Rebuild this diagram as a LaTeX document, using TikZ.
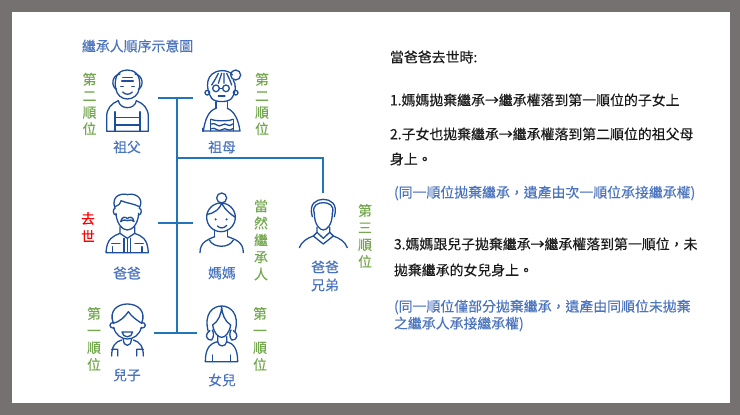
\documentclass[tikz,border=0pt]{standalone}
\usepackage{fontspec}
\setmainfont{Noto Sans CJK TC}[FakeBold=0.25,Script=CJK,Language=Chinese Traditional]
\definecolor{frameg}{HTML}{757171}
\definecolor{linkb}{HTML}{2176B8}
\definecolor{iconb}{HTML}{1F4F9C}
\definecolor{textb}{HTML}{4A74BE}
\definecolor{textg}{HTML}{74A84E}
\definecolor{textk}{HTML}{1A1A1A}
\tikzset{
  link/.style={draw=linkb,line width=1.6pt},
  icon/.style={draw=iconb,line width=1.3pt,line cap=round,line join=round},
  txt/.style={inner sep=0pt,outer sep=0pt,anchor=west,text=textk,font=\fontsize{13.9}{16}\selectfont},
  bluetxt/.style={txt,text=textb,font=\fontsize{13.9}{16}\selectfont},
  personname/.style={inner sep=0pt,text=textb,font=\fontsize{13.8}{18}\selectfont,align=center},
  rank/.style={inner sep=0pt,text=textg,font=\fontsize{13.8}{17}\selectfont,align=center},
  zoomA/.style={shift={(70,30)},x=0.33333pt,y=-0.33333pt},
  zoomB/.style={shift={(70,180)},x=0.33333pt,y=-0.33333pt},
  zoomC/.style={shift={(70,290)},x=0.33333pt,y=-0.33333pt}
}
\begin{document}
\begin{tikzpicture}[x=1pt,y=-1pt]
\useasboundingbox (0,0) rectangle (740,415);
\fill[frameg] (0,0) rectangle (740,415);
\fill[white] (12,12) rectangle (730,403);

% connectors
\coordinate (gpL) at (158,98);
\coordinate (gpR) at (193,98);
\coordinate (gpJ) at (177,98);
\coordinate (brJ) at (177,158);
\coordinate (brE) at (323,158);
\coordinate (unc) at (323,193);
\coordinate (paL) at (158,223);
\coordinate (paR) at (193,223);
\coordinate (chL) at (154,333);
\coordinate (chR) at (197,333);
\coordinate (chJ) at (177,333);
\draw[link] (gpL) -- (gpR);
\draw[link] (gpJ) -- (chJ);
\draw[link] (brJ) -- (brE) -- (unc);
\draw[link] (paL) -- (paR);
\draw[link] (chL) -- (chR);

% grandfather
\begin{scope}[zoomA]
\draw[icon] (137,175) .. controls (130,130) and (155,120) .. (172,120) .. controls (190,120) and (215,130) .. (208,175) .. controls (205,195) and (190,207) .. (172,207) .. controls (155,207) and (140,195) .. (137,175);
\draw[icon] (150,132) .. controls (125,135) and (122,170) .. (140,178);
\draw[icon] (195,132) .. controls (220,135) and (222,170) .. (205,178);
\draw[icon] (158,143) -- (187,143) (155,153) -- (190,153);
\draw[icon] (152,170) -- (160,170) (185,170) -- (193,170);
\draw[icon] (158,186) .. controls (165,195) and (180,195) .. (187,186);
\draw[icon] (145,212) .. controls (150,240) and (195,240) .. (199,212);
\draw[icon] (145,212) .. controls (125,220) and (110,235) .. (110,260) -- (110,304) -- (235,304) -- (235,260) .. controls (235,235) and (220,220) .. (199,212);
\draw[icon] (135,245) -- (135,304) (210,245) -- (210,304);
\draw[icon] (135,262) -- (210,262) (135,285) -- (210,285);
% grandmother
\draw[icon] (497,135) circle[radius=15];
\draw[icon] (425,205) .. controls (405,175) and (405,125) .. (455,122) .. controls (470,122) and (480,125) .. (487,135);
\draw[icon] (490,150) .. controls (500,165) and (497,190) .. (485,205);
\draw[icon] (425,205) .. controls (435,218) and (475,218) .. (485,205);
\draw[icon] (425,165) .. controls (435,150) and (440,140) .. (445,130) (445,160) -- (455,130) (462,160) -- (462,130) (485,165) .. controls (480,150) and (475,140) .. (470,130);
\draw[icon] (438,175) circle[radius=10] (468,175) circle[radius=10];
\draw[icon] (448,175) -- (458,175);
\draw[icon] (412,188) circle[radius=7] (497,188) circle[radius=7];
\draw[icon] (445,198) -- (465,198);
\draw[icon] (438,215) -- (438,235) (472,215) -- (472,235);
\draw[icon] (438,235) .. controls (415,242) and (405,270) .. (400,303) -- (510,303) .. controls (505,270) and (495,245) .. (472,235);
\draw[icon] (397,295) -- (397,303) -- (400,303);
\draw[icon] (422,268) -- (422,303) (490,268) -- (490,303);
\draw[icon] (424,282) .. controls (435,275) and (445,295) .. (456,285) .. controls (467,275) and (477,295) .. (488,282);
\draw[icon] (424,296) .. controls (435,289) and (445,309) .. (456,299) .. controls (467,289) and (477,309) .. (488,296);
\draw[icon] (424,268) .. controls (435,274) and (478,274) .. (488,268);
\end{scope}

% father, mother, uncle
\begin{scope}[zoomB]
\draw[icon] (135,85) .. controls (120,40) and (165,40) .. (172,44) .. controls (190,38) and (225,50) .. (208,85);
\draw[icon] (135,80) .. controls (145,78) and (150,72) .. (153,62) .. controls (170,70) and (190,70) .. (208,80);
\draw[icon] (135,85) .. controls (128,85) and (128,105) .. (138,105);
\draw[icon] (208,85) .. controls (216,85) and (216,105) .. (206,105);
\draw[icon] (138,100) .. controls (140,135) and (160,150) .. (172,150) .. controls (185,150) and (204,135) .. (206,100);
\draw[icon] (152,125) .. controls (155,108) and (168,110) .. (172,116) .. controls (176,110) and (190,108) .. (192,125) .. controls (185,118) and (175,120) .. (172,122) .. controls (168,120) and (160,118) .. (152,125);
\draw[icon] (150,140) -- (150,160) -- (172,175) -- (194,160) -- (194,140);
\draw[icon] (150,160) .. controls (130,168) and (110,175) .. (108,218) -- (235,218) .. controls (233,175) and (215,168) .. (194,160);
\draw[icon] (172,175) -- (172,218) (162,175) -- (162,218) (182,175) -- (182,218);
\draw[icon] (125,190) -- (150,190) (195,190) -- (220,190);
\draw[icon] (128,200) -- (128,218) (216,200) -- (216,218);
% mother
\draw[icon] (455,54) circle[radius=15];
\draw[icon] (453,112) circle[radius=43];
\draw[icon] (411,103) .. controls (435,100) and (450,85) .. (455,70) .. controls (465,90) and (485,105) .. (496,112);
\fill[iconb] (437,118) circle[radius=3.5] (470,118) circle[radius=3.5];
\draw[icon] (442,138) .. controls (450,146) and (462,146) .. (470,136);
\draw[icon] (434,150) -- (434,170) (473,150) -- (473,170);
\draw[icon] (434,170) .. controls (415,178) and (390,185) .. (390,218);
\draw[icon] (473,170) .. controls (495,178) and (520,185) .. (520,218);
\draw[icon] (418,180) .. controls (430,205) and (478,205) .. (490,180);
% uncle
\draw[icon] (727,110) .. controls (715,70) and (740,58) .. (760,58) .. controls (780,58) and (805,70) .. (793,110);
\draw[icon] (733,100) .. controls (725,75) and (745,68) .. (760,68) .. controls (775,68) and (795,75) .. (787,100);
\draw[icon] (733,100) .. controls (733,135) and (750,150) .. (760,150) .. controls (770,150) and (787,135) .. (787,100);
\draw[icon] (741,142) -- (741,157) -- (730,168) -- (760,192) -- (790,168) -- (779,157) -- (779,142);
\draw[icon] (741,157) -- (760,175) -- (779,157);
\draw[icon] (730,168) .. controls (710,175) and (695,185) .. (688,203);
\draw[icon] (790,168) .. controls (810,175) and (825,185) .. (832,203);
\end{scope}

% son, daughter
\begin{scope}[zoomC]
\draw[icon] (130,100) .. controls (115,60) and (145,42) .. (172,42) .. controls (200,42) and (230,60) .. (215,100);
\draw[icon] (130,100) .. controls (150,95) and (165,80) .. (175,65) .. controls (185,80) and (200,90) .. (215,100);
\draw[icon] (131,97) .. controls (116,97) and (116,115) .. (132,115);
\draw[icon] (214,97) .. controls (230,97) and (230,115) .. (213,115);
\draw[icon] (131,112) .. controls (136,135) and (155,147) .. (172,147) .. controls (190,147) and (209,135) .. (214,112);
\draw[icon] (156,126) -- (188,126) .. controls (186,145) and (158,145) .. (156,126);
\draw[icon] (160,148) .. controls (160,172) and (184,172) .. (184,148);
\draw[icon] (155,150) .. controls (135,155) and (125,170) .. (125,198) (125,178) -- (143,178) -- (143,198);
\draw[icon] (190,150) .. controls (210,155) and (220,170) .. (220,198) (220,178) -- (200,178) -- (200,198);
% daughter
\draw[icon] (415,125) .. controls (400,70) and (430,48) .. (455,48) .. controls (480,48) and (510,70) .. (495,125);
\draw[icon] (428,105) .. controls (445,95) and (455,70) .. (455,50) .. controls (455,70) and (465,95) .. (482,105);
\draw[icon] (428,105) .. controls (432,130) and (445,142) .. (455,142) .. controls (465,142) and (478,130) .. (482,105);
\draw[icon] (420,122) .. controls (405,130) and (405,150) .. (425,150) .. controls (432,140) and (432,130) .. (427,120);
\draw[icon] (490,122) .. controls (505,130) and (505,150) .. (485,150) .. controls (478,140) and (478,130) .. (483,120);
\draw[icon] (443,140) -- (443,155) .. controls (445,172) and (468,172) .. (470,155) -- (470,140);
\draw[icon] (443,155) .. controls (420,160) and (406,175) .. (406,215) -- (503,215) .. controls (503,175) and (490,160) .. (470,155);
\draw[icon] (427,195) -- (427,215) (482,195) -- (482,215);
\end{scope}

% person names
\node[personname] (n1) at (127,147) {祖父};
\node[personname] (n2) at (222,147) {祖母};
\node[personname] (n3) at (127,273) {爸爸};
\node[personname] (n4) at (222,273) {媽媽};
\node[personname] (n5) at (325,276) {爸爸\\兄弟};
\node[personname] (n6) at (127,375) {兒子};
\node[personname] (n7) at (222,380) {女兒};

% vertical labels
\node[rank,font=\fontsize{13.8}{16.5}\selectfont] (r1) at (89.5,104) {第\\二\\順\\位};
\node[rank,font=\fontsize{13.8}{16.5}\selectfont] (r2) at (262,104) {第\\二\\順\\位};
\node[rank,text=red,font=\fontsize{13.8}{17.7}\selectfont] (r3) at (88,227) {去\\世};
\node[rank] (r4) at (261,240) {當\\然\\繼\\承\\人};
\node[rank] (r5) at (365,236) {第\\三\\順\\位};
\node[rank] (r6) at (94,339) {第\\一\\順\\位};
\node[rank] (r7) at (260,339) {第\\一\\順\\位};

% texts
\node[bluetxt] (title) at (82,46) {繼承人順序示意圖};
\node[txt] (t0) at (390,57) {當爸爸去世時:};
\node[txt] (t1) at (390,100) {1.媽媽拋棄繼承→繼承權落到第一順位的子女上};
\node[txt] (t2) at (390,134) {2.子女也拋棄繼承→繼承權落到第二順位的祖父母};
\node[txt] (t3) at (390,159) {身上。};
\node[bluetxt] (t4) at (394,193) {(同一順位拋棄繼承，遺產由次一順位承接繼承權)};
\node[txt] (t5) at (394,244) {3.媽媽跟兒子拋棄繼承→繼承權落到第一順位，未};
\node[txt] (t6) at (394,270) {拋棄繼承的女兒身上。};
\node[bluetxt] (t7) at (394,307) {(同一順位僅部分拋棄繼承，遺產由同順位未拋棄};
\node[bluetxt] (t8) at (394,324) {之繼承人承接繼承權)};
\end{tikzpicture}
\end{document}
